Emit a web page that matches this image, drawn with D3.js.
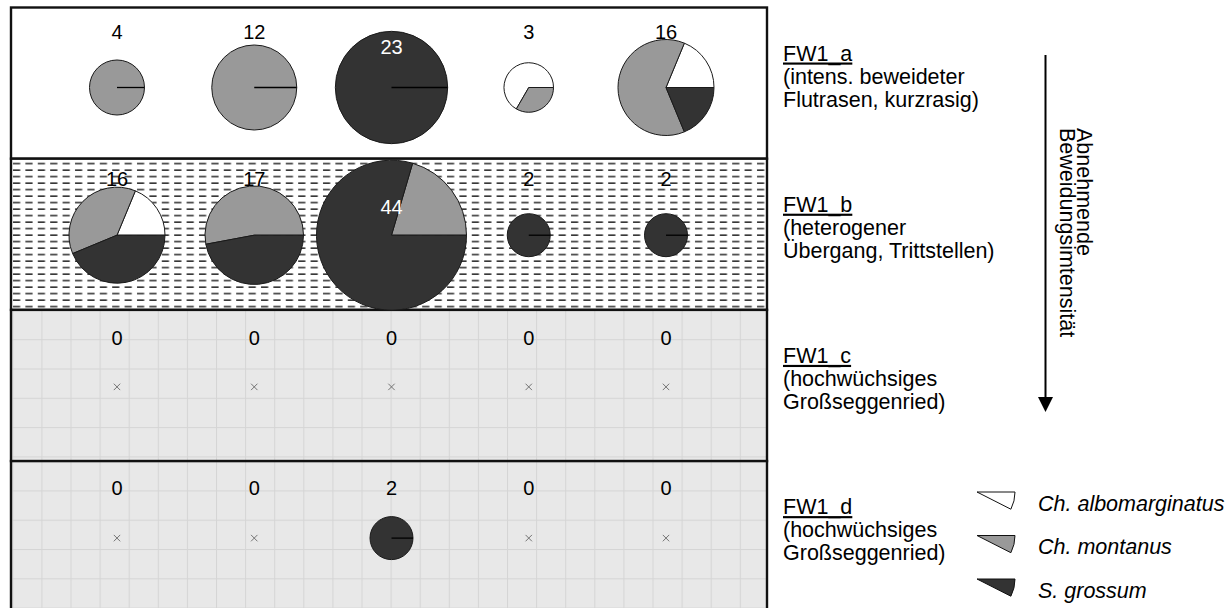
<!DOCTYPE html>
<html>
<head>
<meta charset="utf-8">
<script src="https://cdn.jsdelivr.net/npm/d3@7"></script>
<style>
  html, body { margin: 0; padding: 0; background: #fff; }
  svg { display: block; font-family: "Liberation Sans", Arial, sans-serif; }
</style>
</head>
<body>
<svg id="chart" width="1232" height="608"></svg>
<script>
// ---------- data ----------
const sites = ["FW1_a", "FW1_b", "FW1_c", "FW1_d"];
const siteDesc = [
  ["(intens. beweideter", "Flutrasen, kurzrasig)"],
  ["(heterogener", "Übergang, Trittstellen)"],
  ["(hochwüchsiges", "Großseggenried)"],
  ["(hochwüchsiges", "Großseggenried)"]
];
const plots = ["1", "2", "3", "4", "5"];
const species = ["Ch. albomarginatus", "Ch. montanus", "S. grossum"];
// counts per site (rows) and plot (columns)
const albomarginatus = [[0, 0, 0, 2, 3], [3, 0, 0, 0, 0], [0, 0, 0, 0, 0], [0, 0, 0, 0, 0]];
const montanus       = [[4, 12, 0, 1, 10], [6, 9, 9, 0, 0], [0, 0, 0, 0, 0], [0, 0, 0, 0, 0]];
const grossum        = [[0, 0, 23, 0, 3], [7, 8, 35, 2, 2], [0, 0, 0, 0, 0], [0, 0, 2, 0, 0]];
const arrowText = ["Abnehmende", "Beweidungsimtensität"];

// ---------- layout / style ----------
const colors = ["#ffffff", "#999999", "#333333"];
const rowCenterDy = [80, 76.5, 77, 77];
const rowLabelDy = [-56, -56.5, -49.5, -50];
const insideLabelDy = { "0-2": -41, "1-2": -28 };
const rowFill = ["white", "url(#dash)", "url(#gridC)", "url(#gridD)"];

const svg = d3.select("#chart");
const defs = svg.append("defs");

const y = d3.scaleBand().domain(sites).range([7.5, 612.3]).paddingInner(0).paddingOuter(0);
const x = d3.scalePoint().domain(plots).range([117, 666]);
const r = d3.scaleSqrt().domain([0, 44]).range([7, 75]);

// dashed pattern (row b)
const dash = defs.append("pattern").attr("id", "dash").attr("patternUnits", "userSpaceOnUse")
  .attr("x", 12).attr("y", y("FW1_b") + 2).attr("width", 12.4).attr("height", 6.5);
dash.append("rect").attr("width", 12.4).attr("height", 6.5).attr("fill", "white");
dash.append("rect").attr("x", 1).attr("y", 2.2).attr("width", 7.2).attr("height", 1.5).attr("fill", "#2a2a2a");

// grid patterns (rows c, d)
["C", "D"].forEach((k, i) => {
  const top = y(sites[2 + i]);
  const p = defs.append("pattern").attr("id", "grid" + k).attr("patternUnits", "userSpaceOnUse")
    .attr("x", 12.3).attr("y", top).attr("width", 29.1).attr("height", 29.3);
  p.append("rect").attr("width", 29.1).attr("height", 29.3).attr("fill", "#e8e8e8");
  p.append("rect").attr("x", 0).attr("y", 0).attr("width", 29.1).attr("height", 1).attr("fill", "#d5d5d5");
  p.append("rect").attr("x", 0).attr("y", 0).attr("width", 1).attr("height", 29.3).attr("fill", "#d5d5d5");
});

// rows
svg.selectAll("rect.row").data(sites).join("rect").attr("class", "row")
  .attr("x", 11).attr("y", d => y(d)).attr("width", 756).attr("height", y.bandwidth())
  .attr("fill", (d, i) => rowFill[i]).attr("stroke", "#111").attr("stroke-width", 2.4);

// pies
const pie = d3.pie().sort(null).value(d => d.v).startAngle(Math.PI / 2).endAngle(Math.PI / 2 - 2 * Math.PI);
const cells = [];
sites.forEach((s, i) => plots.forEach((p, j) => {
  const vals = [albomarginatus[i][j], montanus[i][j], grossum[i][j]];
  cells.push({ i, j, s, p, vals, total: d3.sum(vals) });
}));

const g = svg.append("g");
cells.forEach(c => {
  const cx = x(c.p), cy = y(c.s) + rowCenterDy[c.i];
  const cg = g.append("g").attr("transform", `translate(${cx},${cy})`);
  if (c.total === 0) {
    const s = 3.2;
    cg.append("path").attr("d", `M${-s},${-s}L${s},${s}M${-s},${s}L${s},${-s}`)
      .attr("stroke", "#666").attr("stroke-width", 0.9);
  } else {
    const rad = r(c.total);
    const arcs = pie(c.vals.map((v, k) => ({ v, k }))).filter(a => a.data.v > 0);
    const arc = d3.arc().innerRadius(0).outerRadius(rad);
    cg.selectAll("path").data(arcs).join("path")
      .attr("d", arc).attr("fill", a => colors[a.data.k])
      .attr("stroke", "#1a1a1a").attr("stroke-width", 1);
    if (arcs.length === 1) {
      cg.append("line").attr("x1", 0).attr("y1", 0).attr("x2", rad).attr("y2", 0)
        .attr("stroke", "#000").attr("stroke-width", 1.3);
    }
  }
  const key = c.i + "-" + c.j;
  const inside = key in insideLabelDy;
  g.append("text").attr("x", cx).attr("y", cy + (inside ? insideLabelDy[key] : rowLabelDy[c.i]))
    .attr("dy", "0.36em").attr("text-anchor", "middle").attr("font-size", 20)
    .attr("fill", inside ? "#ffffff" : "#000").text(c.total);
});

// site labels
const lab = svg.append("g").attr("font-size", 21.5).attr("fill", "#000");
sites.forEach((s, i) => {
  const t = lab.append("text").attr("x", 783).attr("y", y(s) + 53);
  t.append("tspan").attr("x", 783).attr("text-decoration", "underline").text(s);
  siteDesc[i].forEach(line => t.append("tspan").attr("x", 783).attr("dy", 23).text(line));
});

// arrow
svg.append("line").attr("x1", 1045.5).attr("y1", 55).attr("x2", 1045.5).attr("y2", 400)
  .attr("stroke", "#000").attr("stroke-width", 2);
svg.append("path").attr("d", "M1038,397L1053,397L1045.5,412Z").attr("fill", "#000");
const at = svg.append("text").attr("transform", "translate(1077,128) rotate(90)")
  .attr("text-anchor", "start").attr("font-size", 21.5);
at.append("tspan").attr("x", 0).attr("y", 0).text(arrowText[0]);
at.append("tspan").attr("x", 0).attr("dy", 17).text(arrowText[1]);

// legend
const leg = svg.append("g");
const wedge = d3.arc().innerRadius(0).outerRadius(38).startAngle(Math.PI / 2).endAngle(Math.PI / 2 + 0.47);
species.forEach((sp, k) => {
  const ly = 503 + k * 43.5;
  leg.append("path").attr("transform", `translate(977,${ly - 11})`).attr("d", wedge())
    .attr("fill", colors[k]).attr("stroke", "#111").attr("stroke-width", 1);
  leg.append("text").attr("x", 1038).attr("y", ly).attr("dy", "0.36em")
    .attr("font-size", 21.5).attr("font-style", "italic").text(sp);
});
</script>
</body>
</html>
